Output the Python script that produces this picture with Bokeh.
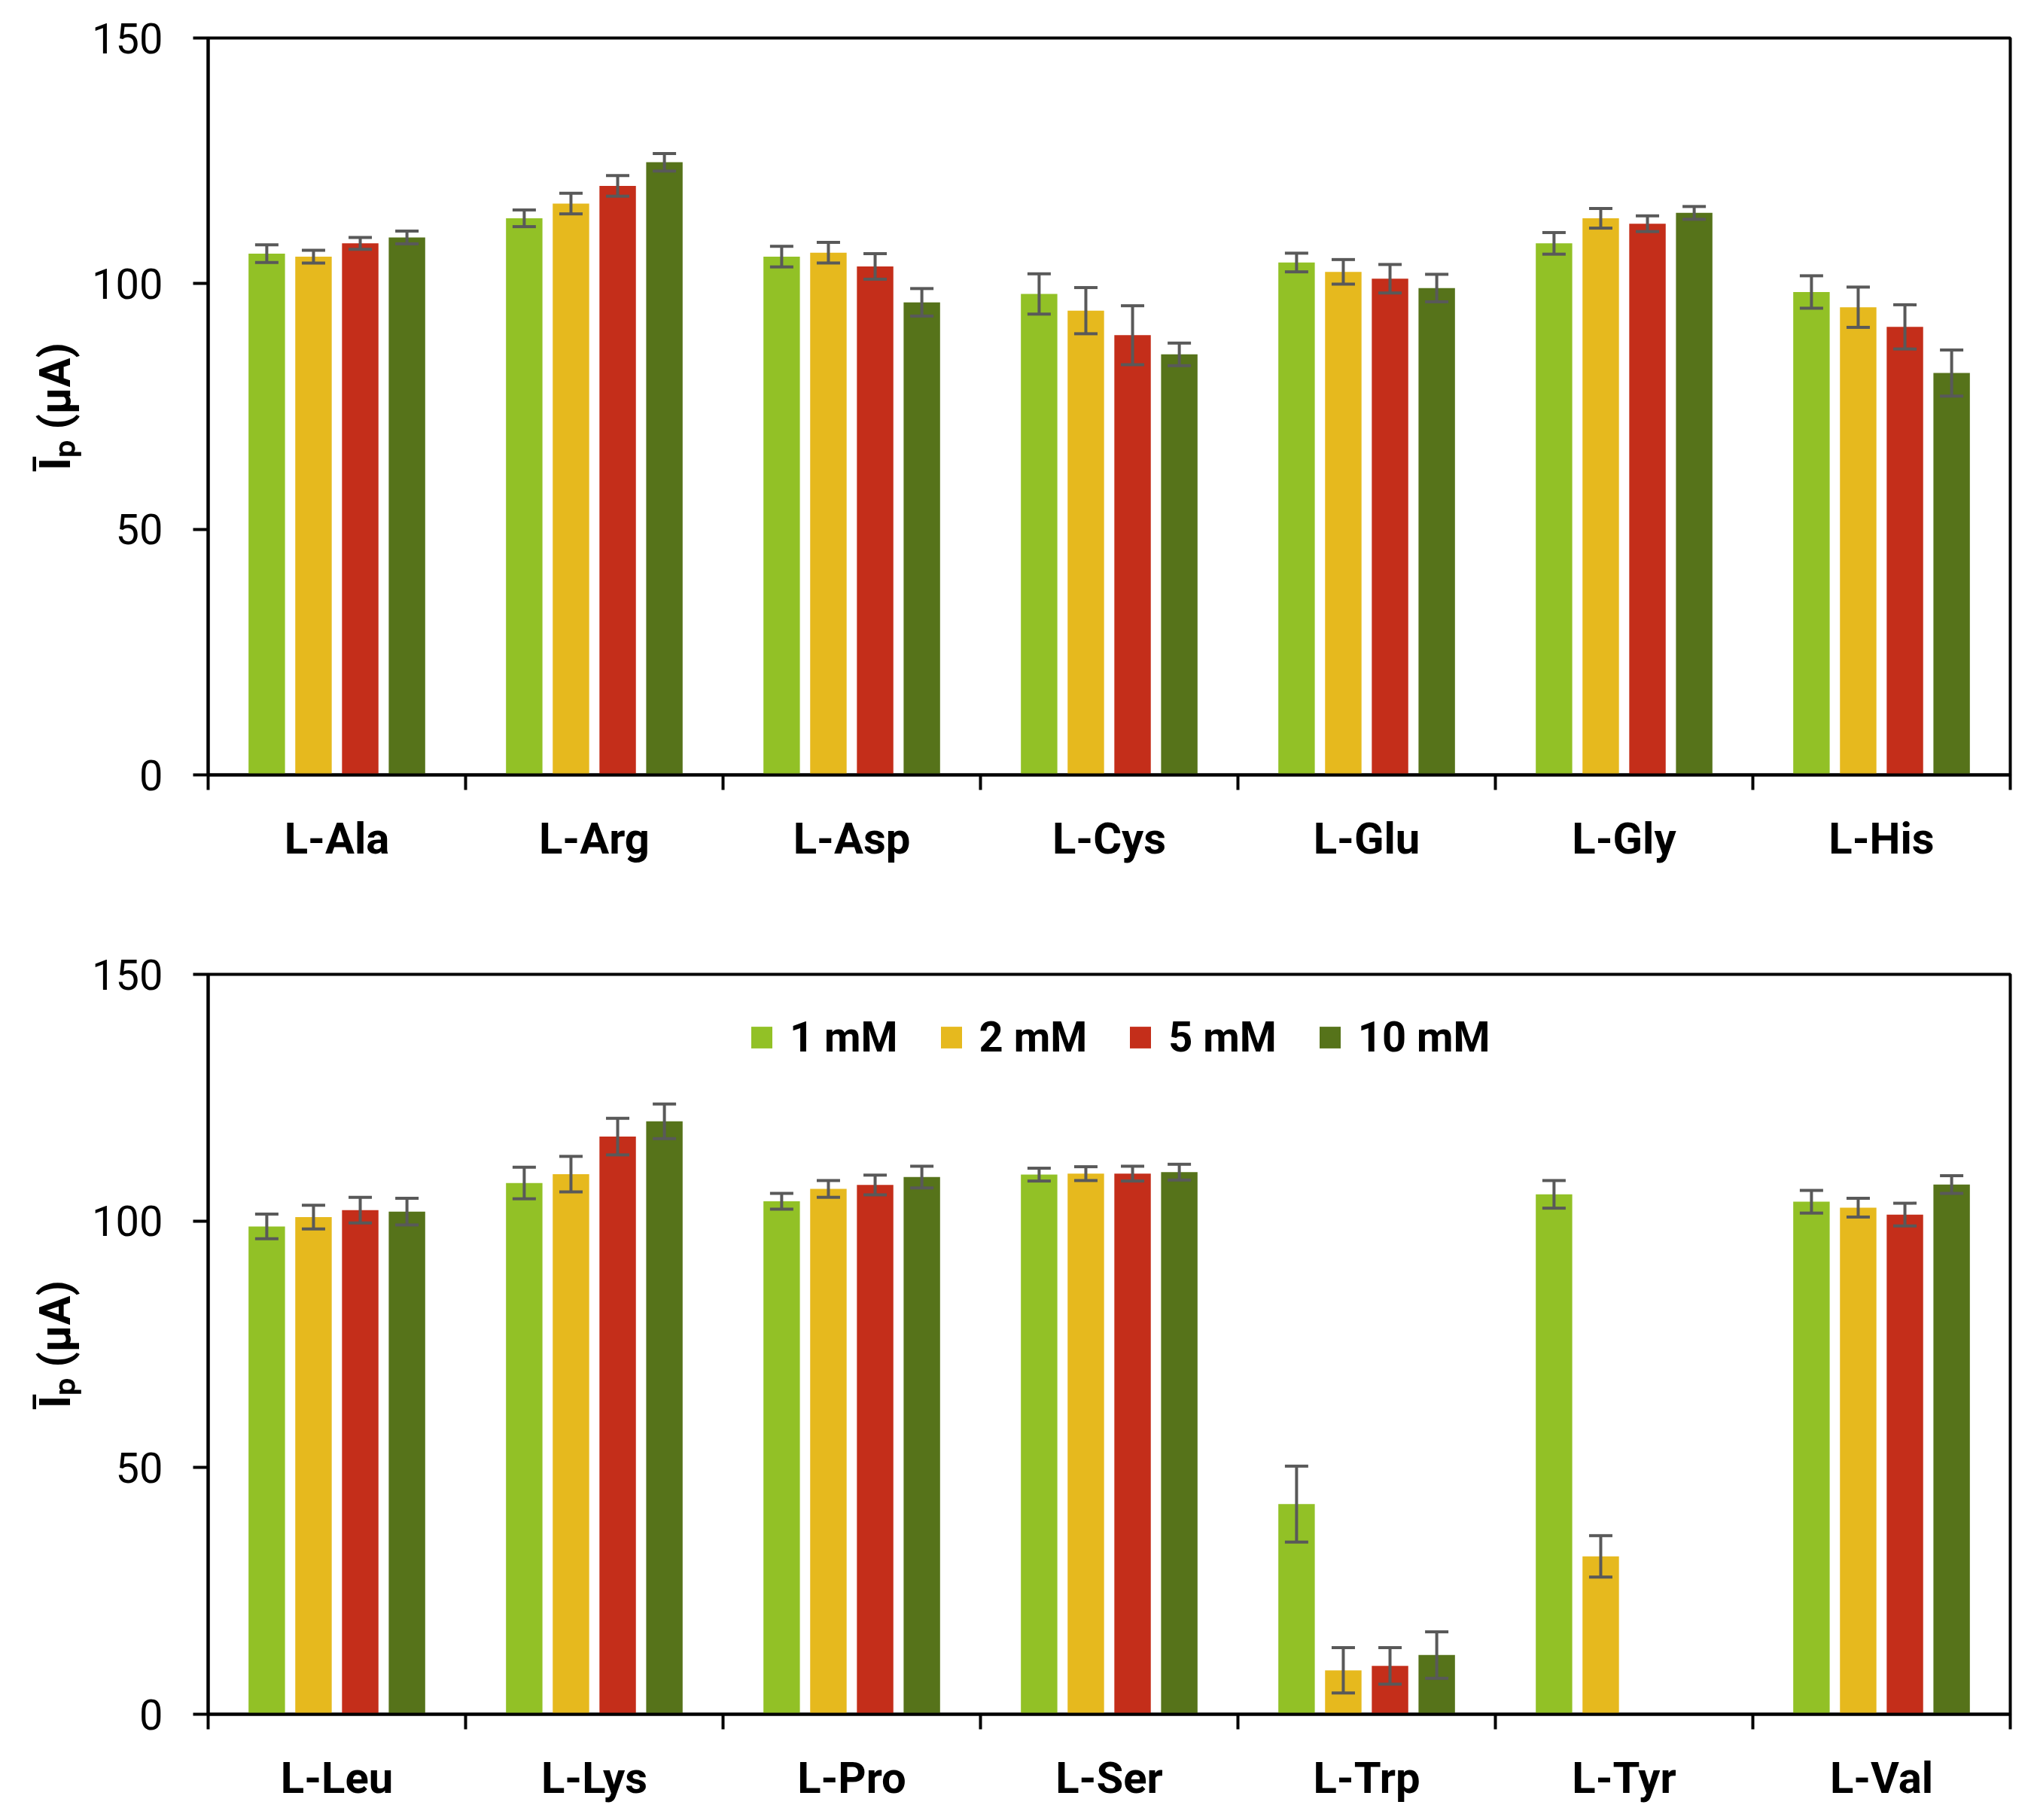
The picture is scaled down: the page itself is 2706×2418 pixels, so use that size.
from bokeh.embed import file_html
from bokeh.layouts import column
from bokeh.models import ColumnDataSource, FixedTicker, Range1d, TeeHead, Whisker
from bokeh.plotting import figure
from bokeh.resources import INLINE

# values (peak current, uA) and their error bars
series_names = ["1 mM", "2 mM", "5 mM", "10 mM"]
colors = ["#92C126", "#E6B91E", "#C42E1A", "#56731A"]

top_cats = ["L-Ala", "L-Arg", "L-Asp", "L-Cys", "L-Glu", "L-Gly", "L-His"]
top_1mM = [106.1, 113.3, 105.5, 97.9, 104.3, 108.2, 98.3]
top_1mM_err = [1.8, 1.7, 2.1, 4.1, 1.9, 2.2, 3.3]
top_2mM = [105.5, 116.3, 106.3, 94.5, 102.4, 113.3, 95.2]
top_2mM_err = [1.3, 2.1, 2.1, 4.7, 2.5, 2.0, 4.1]
top_5mM = [108.2, 119.9, 103.5, 89.5, 101.0, 112.2, 91.2]
top_5mM_err = [1.2, 2.1, 2.6, 6.0, 2.9, 1.6, 4.5]
top_10mM = [109.4, 124.7, 96.2, 85.6, 99.1, 114.4, 81.8]
top_10mM_err = [1.3, 1.8, 2.8, 2.3, 2.8, 1.3, 4.7]

bot_cats = ["L-Leu", "L-Lys", "L-Pro", "L-Ser", "L-Trp", "L-Tyr", "L-Val"]
bot_1mM = [98.9, 107.7, 104.0, 109.4, 42.6, 105.4, 103.9]
bot_1mM_err = [2.5, 3.2, 1.6, 1.3, 7.7, 2.8, 2.3]
bot_2mM = [100.8, 109.5, 106.5, 109.6, 8.9, 32.0, 102.7]
bot_2mM_err = [2.4, 3.6, 1.7, 1.4, 4.6, 4.2, 1.9]
bot_5mM = [102.2, 117.1, 107.3, 109.6, 9.8, None, 101.3]
bot_5mM_err = [2.6, 3.7, 2.0, 1.5, 3.7, None, 2.3]
bot_10mM = [101.9, 120.2, 108.9, 109.9, 12.0, None, 107.4]
bot_10mM_err = [2.7, 3.5, 2.2, 1.6, 4.7, None, 1.8]

y_ticks = [0, 50, 100, 150]

FONT = "Roboto"
STEP = 0.1815   # bar pitch inside a group, in category units
BAR_W = 0.1416


def make_panel(cats, values, errors, height, border_top, border_bottom, legend):
    p = figure(width=2690, height=height, output_backend="svg", toolbar_location=None,
               x_range=Range1d(0, len(cats)), y_range=Range1d(0, 150),
               min_border_left=276, min_border_right=20,
               min_border_top=border_top, min_border_bottom=border_bottom)
    p.background_fill_color = "white"
    p.border_fill_color = "white"
    p.outline_line_color = "black"
    p.outline_line_width = 4
    p.xgrid.grid_line_color = None
    p.ygrid.grid_line_color = None

    for k, (vals, errs) in enumerate(zip(values, errors)):
        xs, tops, lo, hi = [], [], [], []
        for i, (v, e) in enumerate(zip(vals, errs)):
            if v is None:
                continue
            xs.append(i + 0.5 + (k - 1.5) * STEP)
            tops.append(v)
            lo.append(v - e)
            hi.append(v + e)
        src = ColumnDataSource(dict(x=xs, top=tops, lower=lo, upper=hi))
        kw = dict(legend_label=series_names[k]) if legend else {}
        p.vbar(x="x", top="top", width=BAR_W, source=src,
               fill_color=colors[k], line_color=None, **kw)
        w = Whisker(base="x", lower="lower", upper="upper", source=src,
                    line_color="#595959", line_width=4, level="overlay",
                    upper_head=TeeHead(size=31, line_color="#595959", line_width=4),
                    lower_head=TeeHead(size=31, line_color="#595959", line_width=4))
        p.add_layout(w)

    xa = p.xaxis[0]
    centers = [i + 0.5 for i in range(len(cats))]
    xa.ticker = FixedTicker(ticks=centers, minor_ticks=list(range(len(cats) + 1)))
    xa.major_label_overrides = {c: name for c, name in zip(centers, cats)}
    xa.major_tick_line_color = None
    xa.major_tick_out = 20
    xa.major_tick_in = 0
    xa.minor_tick_line_color = "black"
    xa.minor_tick_line_width = 4
    xa.minor_tick_out = 20
    xa.minor_tick_in = 0
    xa.axis_line_width = 4
    xa.axis_line_color = "black"
    xa.major_label_text_font = FONT
    xa.major_label_text_font_style = "bold"
    xa.major_label_text_font_size = "58px"
    xa.major_label_text_color = "black"
    xa.major_label_standoff = 30

    ya = p.yaxis[0]
    ya.ticker = FixedTicker(ticks=y_ticks, minor_ticks=[])
    ya.major_tick_out = 20
    ya.major_tick_in = 0
    ya.major_tick_line_width = 4
    ya.major_tick_line_color = "black"
    ya.axis_line_width = 4
    ya.axis_line_color = "black"
    ya.major_label_text_font = FONT
    ya.major_label_text_font_size = "56px"
    ya.major_label_text_color = "black"
    ya.major_label_standoff = 40
    ya.axis_label = "\u012a\u209a (\u03bcA)"
    ya.axis_label_text_font = FONT
    ya.axis_label_text_font_style = "bold"
    ya.axis_label_text_font_size = "58px"
    ya.axis_label_text_color = "black"
    ya.axis_label_standoff = 12

    if legend:
        lg = p.legend[0]
        lg.location = (718, 866)
        lg.orientation = "horizontal"
        lg.margin = 0
        lg.padding = 0
        lg.spacing = 53
        lg.glyph_width = 35
        lg.glyph_height = 36
        lg.label_standoff = 20
        lg.label_text_font = FONT
        lg.label_text_font_style = "bold"
        lg.label_text_font_size = "56px"
        lg.label_text_color = "black"
        lg.border_line_color = None
        lg.background_fill_alpha = 0
    return p


p1 = make_panel(top_cats, [top_1mM, top_2mM, top_5mM, top_10mM],
                [top_1mM_err, top_2mM_err, top_5mM_err, top_10mM_err],
                height=1230, border_top=50, border_bottom=201, legend=False)
p2 = make_panel(bot_cats, [bot_1mM, bot_2mM, bot_5mM, bot_10mM],
                [bot_1mM_err, bot_2mM_err, bot_5mM_err, bot_10mM_err],
                height=1172, border_top=64, border_bottom=125, legend=True)

layout = column(p1, p2)
open("out.html", "w").write(file_html(layout, INLINE))
